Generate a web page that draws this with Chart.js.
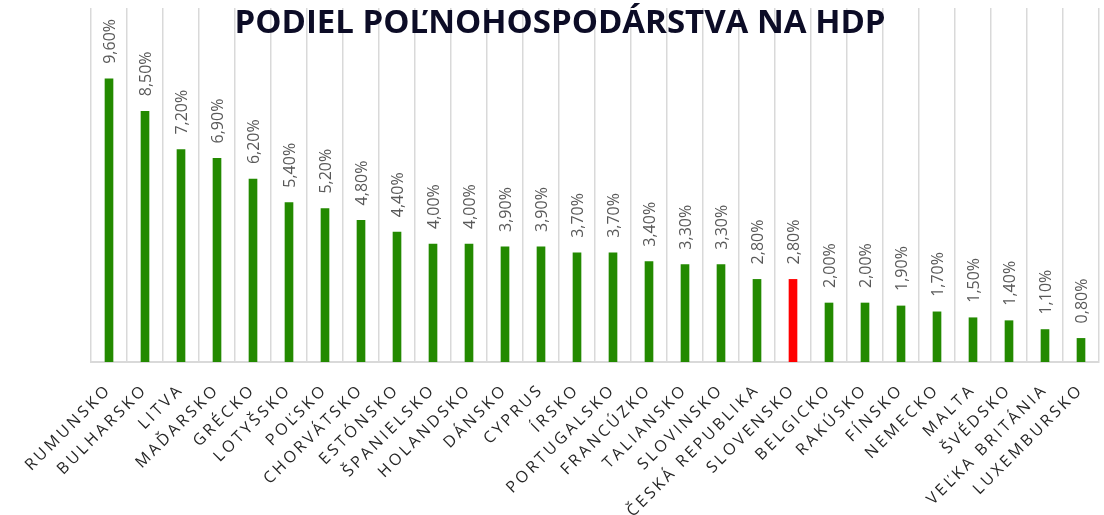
<!DOCTYPE html>
<html>
<head>
<meta charset="utf-8">
<script src="https://cdn.jsdelivr.net/npm/chart.js@4"></script>
<style>
html,body{margin:0;padding:0;background:#fff;}
#wrap{width:1104px;height:515px;}
</style>
</head>
<body>
<div id="wrap"><canvas id="c" width="1104" height="515"></canvas></div>
<script>
const titleText = "PODIEL POĽNOHOSPODÁRSTVA NA HDP";
const countries = ["RUMUNSKO","BULHARSKO","LITVA","MAĎARSKO","GRÉCKO","LOTYŠSKO","POĽSKO","CHORVÁTSKO","ESTÓNSKO","ŠPANIELSKO","HOLANDSKO","DÁNSKO","CYPRUS","ÍRSKO","PORTUGALSKO","FRANCÚZKO","TALIANSKO","SLOVINSKO","ČESKÁ REPUBLIKA","SLOVENSKO","BELGICKO","RAKÚSKO","FÍNSKO","NEMECKO","MALTA","ŠVÉDSKO","VEĽKA BRITÁNIA","LUXEMBURSKO"];
const shares = [9.6,8.5,7.2,6.9,6.2,5.4,5.2,4.8,4.4,4.0,4.0,3.9,3.9,3.7,3.7,3.4,3.3,3.3,2.8,2.8,2.0,2.0,1.9,1.7,1.5,1.4,1.1,0.8];
const highlight = "SLOVENSKO";
const yMin = 0, yMax = 12;

const GREEN = "#238a00", RED = "#ff0000";
const barColors = countries.map(c => c === highlight ? RED : GREEN);
const fmt = v => v.toFixed(2).replace(".", ",") + "%";

const labelPlugin = {
  id: "customLabels",
  afterDatasetsDraw(chart) {
    const ctx = chart.ctx;
    const meta = chart.getDatasetMeta(0);
    ctx.save();
    ctx.font = "16px 'Open Sans'";
    ctx.fillStyle = "#595959";
    ctx.textAlign = "left";
    ctx.textBaseline = "middle";
    meta.data.forEach((bar, i) => {
      ctx.save();
      ctx.translate(bar.x + 1, bar.y - 15);
      ctx.rotate(-Math.PI / 2);
      ctx.fillText(fmt(shares[i]), 0, 0);
      ctx.restore();
    });
    ctx.restore();
  },
  afterDraw(chart) {
    const ctx = chart.ctx;
    const xs = chart.scales.x;
    const base = chart.chartArea.bottom;
    ctx.save();
    ctx.font = "16px 'Open Sans'";
    ctx.fillStyle = "#262626";
    ctx.textAlign = "right";
    ctx.textBaseline = "middle";
    try { ctx.letterSpacing = "3px"; } catch(e) {}
    countries.forEach((c, i) => {
      const x = xs.getPixelForValue(i);
      ctx.save();
      ctx.translate(x, base + 25);
      ctx.rotate(-Math.PI / 4);
      ctx.fillText(c, 0, 0);
      ctx.restore();
    });
    ctx.restore();
    // title
    ctx.save();
    ctx.font = "bold 33px 'Open Sans'";
    ctx.fillStyle = "#0c0c26";
    ctx.textAlign = "center";
    ctx.textBaseline = "alphabetic";
    ctx.fillText(titleText, 560, 33);
    ctx.restore();
  }
};

new Chart(document.getElementById("c"), {
  type: "bar",
  data: {
    labels: countries,
    datasets: [{
      data: shares,
      backgroundColor: barColors,
      borderWidth: 0,
      barThickness: 8
    }]
  },
  options: {
    responsive: false,
    animation: false,
    layout: { padding: { left: 91, right: 5, top: 8, bottom: 0 } },
    plugins: { legend: { display: false }, tooltip: { enabled: false }, title: { display: false } },
    scales: {
      x: {
        offset: true,
        grid: { offset: true, color: "#d9d9d9", lineWidth: 1.5, drawTicks: false },
        border: { display: true, color: "#d9d9d9", width: 2 },
        ticks: { display: false },
        afterFit: s => { s.height = 153; }
      },
      y: {
        display: false,
        min: yMin, max: yMax
      }
    }
  },
  plugins: [labelPlugin]
});
</script>
</body>
</html>
